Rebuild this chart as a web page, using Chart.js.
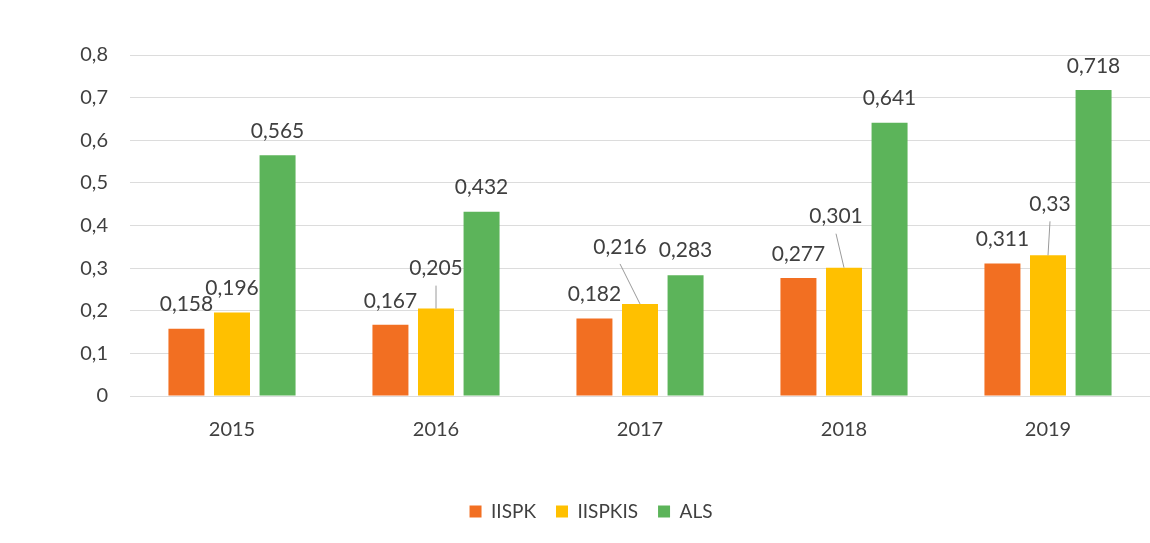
<!DOCTYPE html>
<html>
<head>
<meta charset="utf-8">
<script src="https://cdn.jsdelivr.net/npm/chart.js@4/dist/chart.umd.min.js"></script>
<style>
  html, body { margin: 0; padding: 0; background: #ffffff; }
  #wrap { width: 1150px; height: 543px; position: relative; }
</style>
</head>
<body>
<div id="wrap"><canvas id="c" width="1150" height="543"></canvas></div>
<script>
const categories = ['2015', '2016', '2017', '2018', '2019'];
const seriesNames = ['IISPK', 'IISPKIS', 'ALS'];
const iispk = [0.158, 0.167, 0.182, 0.277, 0.311];
const iispkis = [0.196, 0.205, 0.216, 0.301, 0.33];
const als = [0.565, 0.432, 0.283, 0.641, 0.718];
const yTicks = [0, 0.1, 0.2, 0.3, 0.4, 0.5, 0.6, 0.7, 0.8];

const colors = ['#F26F22', '#FFC000', '#5CB45A'];
const FONT = 'Lato, "Open Sans", sans-serif';
const TEXT = '#404040';

// label placement styles: [dx, rise above bar top, leader line]
const labelStyle = [
  [[0,24,false],[0,24,false],[0,24,false],[0,24,false],[0,24,false]],
  [[0,24,false],[0,40,true],[-20,57,true],[-8,51,true],[2,51,true]],
  [[0,24,false],[0,25,false],[0,25,false],[0,25,false],[0,24,false]]
];

const fmt = v => String(v).replace('.', ',');

const labelPlugin = {
  id: 'valueLabels',
  afterDatasetsDraw(chart) {
    const ctx = chart.ctx;
    ctx.save();
    ctx.font = '21px ' + FONT;
    ctx.fillStyle = TEXT;
    ctx.textAlign = 'center';
    ctx.textBaseline = 'middle';
    chart.data.datasets.forEach((ds, di) => {
      const meta = chart.getDatasetMeta(di);
      meta.data.forEach((bar, i) => {
        const st = labelStyle[di][i];
        const lx = bar.x + st[0];
        const ly = bar.y - st[1];
        if (st[2]) {
          ctx.strokeStyle = '#9a9a9a';
          ctx.lineWidth = 1;
          ctx.beginPath();
          ctx.moveTo(lx, ly + 17);
          ctx.lineTo(bar.x, bar.y);
          ctx.stroke();
        }
        ctx.fillText(fmt(ds.data[i]), lx, ly);
      });
    });
    ctx.restore();
  }
};

const legendShift = {
  id: 'legendShift',
  afterLayout(chart) {
    const lg = chart.legend;
    if (lg) { lg.left += 16; lg.right += 16; }
  }
};

new Chart(document.getElementById('c'), {
  type: 'bar',
  data: {
    labels: categories,
    datasets: [
      { label: seriesNames[0], data: iispk, backgroundColor: colors[0] },
      { label: seriesNames[1], data: iispkis, backgroundColor: colors[1] },
      { label: seriesNames[2], data: als, backgroundColor: colors[2] }
    ]
  },
  options: {
    responsive: false,
    animation: false,
    devicePixelRatio: 1,
    layout: { padding: { top: 55, right: 0, left: 0, bottom: 12 } },
    datasets: { bar: { categoryPercentage: 0.67, barPercentage: 0.79 } },
    plugins: {
      legend: {
        position: 'bottom',
        labels: {
          font: { size: 19, family: FONT },
          color: TEXT,
          boxWidth: 12,
          boxHeight: 12,
          padding: 20
        }
      },
      tooltip: { enabled: false }
    },
    scales: {
      x: {
        grid: { display: false, drawTicks: false },
        border: { display: false },
        ticks: { font: { size: 20, family: FONT }, color: TEXT, padding: 22 },
        afterFit(s) { s.height = 86; }
      },
      y: {
        min: 0, max: 0.8,
        afterBuildTicks(s) { s.ticks = yTicks.map(v => ({ value: v })); },
        grid: { color: '#dcdcdc', drawTicks: false, lineWidth: 1 },
        border: { display: false },
        ticks: {
          font: { size: 20, family: FONT }, color: TEXT, padding: 22,
          callback: v => fmt(v)
        },
        afterFit(s) { s.width = 130; }
      }
    }
  },
  plugins: [labelPlugin, legendShift]
});
</script>
</body>
</html>
